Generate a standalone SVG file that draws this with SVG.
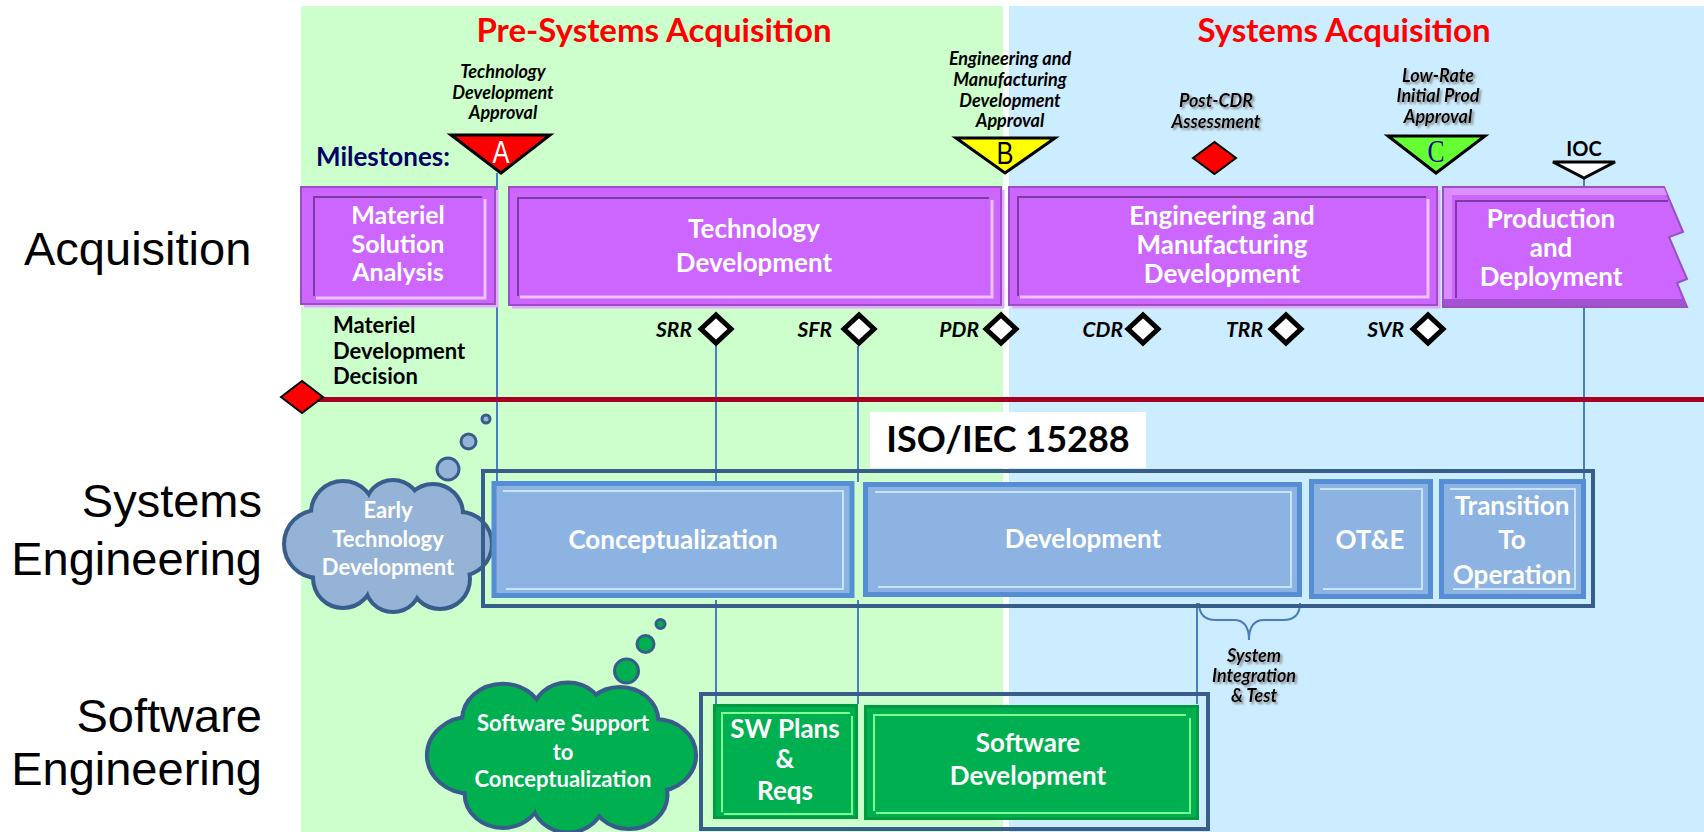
<svg xmlns="http://www.w3.org/2000/svg" xmlns:xlink="http://www.w3.org/1999/xlink" width="1704" height="832" viewBox="0 0 1704 832">
  <style>
    .lbl{font-family:"Liberation Sans",Arial,sans-serif;font-size:47px;fill:#000}
    .title{font-family:Lato,"Open Sans",sans-serif;font-weight:700;font-size:33px;fill:#ff0000;text-anchor:middle}
    .ms{font-family:Lato,"Open Sans",sans-serif;font-weight:700;font-style:italic;font-size:18px;fill:#000;text-anchor:middle}
    .rv{font-family:Lato,"Open Sans",sans-serif;font-weight:700;font-style:italic;font-size:21px;fill:#000;text-anchor:end}
    .wb{font-family:Lato,"Open Sans",sans-serif;font-weight:700;font-size:26px;fill:#fff;text-anchor:middle}
    .wbs{font-family:Lato,"Open Sans",sans-serif;font-weight:700;font-size:25px;fill:#fff;text-anchor:middle}
    .cl{font-family:Lato,"Open Sans",sans-serif;font-weight:700;font-size:22px;fill:#fff;text-anchor:middle}
    .bk{font-family:Lato,"Open Sans",sans-serif;font-weight:700;fill:#000}
    .letter{font-family:"Liberation Sans",Arial,sans-serif;font-size:31px;text-anchor:middle}
    .purple{fill:#cc66ff;stroke:#9b4fc4;stroke-width:2}
    .pdark{fill:none;stroke:#7d3aa3;stroke-width:2}
    .plight{fill:none;stroke:#ecc4ff;stroke-width:3}
    .pglow{fill:none;stroke:#e3aaff;stroke-width:3}
    .blue{fill:#8db3e2;stroke:#558ed5;stroke-width:5}
    .bhi{fill:none;stroke:#c6e4ff;stroke-width:2}
    .green{fill:#00b050;stroke:#009a40;stroke-width:3}
    .ghi{fill:none;stroke:#7dff8f;stroke-width:2}
    .frame{fill:none;stroke:#385d8a;stroke-width:4}
    .vline{fill:none;stroke:#4a7ebb;stroke-width:2}
    .review{fill:#fff;stroke:#000;stroke-width:5}
    .bubble{stroke:#385d8a;stroke-width:3}
  </style>
  <defs>
    <filter id="softShadow" x="-10%" y="-30%" width="130%" height="160%">
      <feDropShadow dx="2" dy="2" stdDeviation="1" flood-color="#808080" flood-opacity="0.9"/>
    </filter>
    <!-- cloud outline built from overlapping lobes, centred on the origin -->
    <g id="cloudShape">
      <circle cx="-70" cy="-2" r="32" vector-effect="non-scaling-stroke"/>
      <circle cx="-45" cy="-33" r="30" vector-effect="non-scaling-stroke"/>
      <circle cx="5" cy="-38" r="26" vector-effect="non-scaling-stroke"/>
      <circle cx="45" cy="-32" r="28" vector-effect="non-scaling-stroke"/>
      <circle cx="72" cy="-2" r="30" vector-effect="non-scaling-stroke"/>
      <circle cx="52" cy="33" r="28" vector-effect="non-scaling-stroke"/>
      <circle cx="5" cy="38" r="26" vector-effect="non-scaling-stroke"/>
      <circle cx="-45" cy="32" r="28" vector-effect="non-scaling-stroke"/>
      <ellipse cx="0" cy="0" rx="70" ry="42" vector-effect="non-scaling-stroke"/>
    </g>
  </defs>

  <!-- phase backgrounds -->
  <rect width="1704" height="832" fill="#fff"/>
  <rect x="301" y="6" width="702" height="826" fill="#ccffcc"/>
  <rect x="1009" y="6" width="695" height="826" fill="#ccecff"/>

  <!-- row labels -->
  <g id="row-labels">
    <text class="lbl" x="24" y="265">Acquisition</text>
    <text class="lbl" x="262" y="517" text-anchor="end">Systems</text>
    <text class="lbl" x="262" y="575" text-anchor="end">Engineering</text>
    <text class="lbl" x="262" y="732" text-anchor="end">Software</text>
    <text class="lbl" x="262" y="785" text-anchor="end">Engineering</text>
  </g>

  <g id="phase-titles">
    <text class="title" x="654" y="42">Pre-Systems Acquisition</text>
    <text class="title" x="1344" y="42">Systems Acquisition</text>
  </g>

  <!-- connectors: milestone drop lines, timeline and brace -->
  <g id="connectors">
    <path class="vline" d="M497,173 V482"/>
    <path class="vline" d="M716,346 V482 M716,600 V704"/>
    <path class="vline" d="M858,346 V482 M858,600 V704"/>
    <path class="vline" d="M1584,178 V480"/>
    <path class="vline" d="M1197,603 V704"/>
    <path class="vline" d="M1199,603 Q1199,620 1216,620 H1234 Q1249,620 1249,640 Q1249,620 1264,620 H1283 Q1300,620 1300,603"/>
    <rect x="302" y="397" width="1402" height="5" fill="#a50021"/>
  </g>

  <g id="milestones-label">
    <text class="bk" x="316" y="166" font-size="26" style="fill:#000066">Milestones:</text>
  </g>

  <g id="milestone-a">
    <text class="ms" x="503" y="78">Technology</text>
    <text class="ms" x="503" y="99">Development</text>
    <text class="ms" x="503" y="119">Approval</text>
    <polygon points="451,135 550,135 501,173" fill="#ff0000" stroke="#000" stroke-width="3"/>
    <text class="letter" x="501" y="163" fill="#fff" textLength="17" lengthAdjust="spacingAndGlyphs">A</text>
  </g>

  <g id="milestone-b">
    <text class="ms" x="1010" y="65">Engineering and</text>
    <text class="ms" x="1010" y="86">Manufacturing</text>
    <text class="ms" x="1010" y="107">Development</text>
    <text class="ms" x="1010" y="127">Approval</text>
    <polygon points="956,138 1055,138 1005,173" fill="#ffff00" stroke="#000" stroke-width="3"/>
    <text class="letter" x="1005" y="164" fill="#000" textLength="17" lengthAdjust="spacingAndGlyphs">B</text>
  </g>

  <g id="post-cdr">
    <g filter="url(#softShadow)">
      <text class="ms" x="1216" y="107">Post-CDR</text>
      <text class="ms" x="1216" y="128">Assessment</text>
    </g>
    <polygon points="1193,158 1214.5,142 1236,158 1214.5,174" fill="#ff0000" stroke="#000" stroke-width="2"/>
  </g>

  <g id="milestone-c">
    <g filter="url(#softShadow)">
      <text class="ms" x="1438" y="82">Low-Rate</text>
      <text class="ms" x="1438" y="102">Initial Prod</text>
      <text class="ms" x="1438" y="123">Approval</text>
    </g>
    <polygon points="1388,136 1485,136 1436,173" fill="#66ff33" stroke="#000" stroke-width="3"/>
    <text x="1436" y="162" font-family="'Liberation Serif','Times New Roman',serif" font-size="31" fill="#000099" text-anchor="middle" textLength="17" lengthAdjust="spacingAndGlyphs">C</text>
  </g>

  <g id="ioc">
    <text class="bk" x="1584" y="156" font-size="20" text-anchor="middle">IOC</text>
    <polygon points="1553,162 1615,162 1584,178" fill="#fff" stroke="#000" stroke-width="3"/>
  </g>

  <!-- acquisition phases -->
  <g id="materiel-solution-analysis">
    <path class="pglow" d="M497,190 V306 H304"/>
    <rect class="purple" x="301" y="187" width="194" height="117"/>
    <path class="pdark" d="M314,296 V197 H482"/>
    <path class="plight" d="M316,298 H485 V199"/>
    <text class="wbs" x="398" y="224">Materiel</text>
    <text class="wbs" x="398" y="252.5">Solution</text>
    <text class="wbs" x="398" y="281">Analysis</text>
  </g>

  <g id="technology-development">
    <path class="pglow" d="M1003,190 V307 H512"/>
    <rect class="purple" x="509" y="187" width="492" height="118"/>
    <path class="pdark" d="M518,296 V198 H989"/>
    <path class="plight" d="M520,297 H992 V200"/>
    <text class="wb" x="754" y="238">Technology</text>
    <text class="wb" x="754" y="272">Development</text>
  </g>

  <g id="emd">
    <path class="pglow" d="M1439,190 V307 H1012"/>
    <rect class="purple" x="1009" y="187" width="428" height="118"/>
    <path class="pdark" d="M1018,296 V197 H1426"/>
    <path class="plight" d="M1020,297 H1428 V199"/>
    <text class="wb" x="1222" y="225">Engineering and</text>
    <text class="wb" x="1222" y="254">Manufacturing</text>
    <text class="wb" x="1222" y="283">Development</text>
  </g>

  <g id="production-deployment">
    <polygon class="purple" points="1443,187 1664,187 1683,232 1669,237 1687,279 1677,283 1687,307 1443,307"/>
    <polygon points="1444,188 1664,188 1667,195 1452,195" fill="#dc90ff"/>
    <rect x="1444" y="188" width="8" height="112" fill="#d98aff"/>
    <polygon points="1444,299 1684,299 1686,306 1444,306" fill="#a552d2"/>
    <path class="pdark" d="M1456,298 V201 H1668"/>
    <text class="wb" x="1551" y="228">Production</text>
    <text class="wb" x="1551" y="257">and</text>
    <text class="wb" x="1551" y="286">Deployment</text>
  </g>

  <g id="materiel-development-decision">
    <text class="bk" x="333" y="333" font-size="22">Materiel</text>
    <text class="bk" x="333" y="359" font-size="22">Development</text>
    <text class="bk" x="333" y="384" font-size="22">Decision</text>
    <polygon points="281,397 302,381 323,397 302,413" fill="#ff0000" stroke="#000" stroke-width="2"/>
  </g>

  <!-- technical reviews -->
  <g id="reviews">
    <g id="srr"><text class="rv" x="692" y="337">SRR</text><polygon class="review" points="701,329 716,315 731,329 716,343"/></g>
    <g id="sfr"><text class="rv" x="832" y="337">SFR</text><polygon class="review" points="844,329 859,315 874,329 859,343"/></g>
    <g id="pdr"><text class="rv" x="979" y="337">PDR</text><polygon class="review" points="986,329 1001,315 1016,329 1001,343"/></g>
    <g id="cdr"><text class="rv" x="1123" y="337">CDR</text><polygon class="review" points="1128,329 1143,315 1158,329 1143,343"/></g>
    <g id="trr"><text class="rv" x="1263" y="337">TRR</text><polygon class="review" points="1271,329 1286,315 1301,329 1286,343"/></g>
    <g id="svr"><text class="rv" x="1404" y="337">SVR</text><polygon class="review" points="1413,329 1428,315 1443,329 1428,343"/></g>
  </g>

  <g id="iso-15288">
    <rect x="870" y="412" width="276" height="56" fill="#fff"/>
    <text class="bk" x="1008" y="452" font-size="36" text-anchor="middle">ISO/IEC 15288</text>
  </g>

  <!-- systems engineering row -->
  <g id="early-technology-development">
    <circle class="bubble" cx="486" cy="419" r="4" fill="#95b3d7"/>
    <circle class="bubble" cx="468.5" cy="441.5" r="7.5" fill="#95b3d7"/>
    <circle class="bubble" cx="448" cy="469" r="11" fill="#95b3d7"/>
    <use xlink:href="#cloudShape" transform="translate(388 546)" fill="#95b3d7" stroke="#385d8a" stroke-width="8"/>
    <use xlink:href="#cloudShape" transform="translate(388 546)" fill="#95b3d7"/>
    <text class="cl" x="388" y="518">Early</text>
    <text class="cl" x="388" y="547">Technology</text>
    <text class="cl" x="388" y="575">Development</text>
  </g>

  <g id="systems-engineering-frame">
    <rect class="frame" x="483" y="471" width="1110" height="135"/>
  </g>

  <g id="conceptualization">
    <rect class="blue" x="494" y="483.5" width="358" height="112"/>
    <path class="bhi" d="M503,491 H843 V589 H506"/>
    <text class="wb" x="673" y="549">Conceptualization</text>
  </g>

  <g id="development">
    <rect class="blue" x="865.5" y="484.5" width="434" height="110"/>
    <path class="bhi" d="M875,492 H1291 V587 H878"/>
    <text class="wb" x="1083" y="548">Development</text>
  </g>

  <g id="ot-and-e">
    <rect class="blue" x="1311.5" y="481.5" width="119" height="115"/>
    <path class="bhi" d="M1320,489 H1422 V589 H1323"/>
    <text class="wb" x="1370" y="549">OT&amp;E</text>
  </g>

  <g id="transition-to-operation">
    <rect class="blue" x="1441.5" y="481.5" width="142" height="115"/>
    <path class="bhi" d="M1450,489 H1575 V589 H1453"/>
    <text class="wb" x="1512" y="515">Transition</text>
    <text class="wb" x="1512" y="549">To</text>
    <text class="wb" x="1512" y="584">Operation</text>
  </g>

  <g id="system-integration-test" filter="url(#softShadow)">
    <text class="ms" x="1254" y="662">System</text>
    <text class="ms" x="1254" y="682">Integration</text>
    <text class="ms" x="1254" y="702">&amp; Test</text>
  </g>

  <!-- software engineering row -->
  <g id="software-support">
    <circle class="bubble" cx="660.5" cy="624" r="4.5" fill="#00b050"/>
    <circle class="bubble" cx="645.5" cy="644" r="8.5" fill="#00b050"/>
    <circle class="bubble" cx="626.5" cy="671" r="12" fill="#00b050"/>
    <use xlink:href="#cloudShape" transform="translate(561.5 757.5) scale(1.3 1.14)" fill="#00b050" stroke="#385d8a" stroke-width="8"/>
    <use xlink:href="#cloudShape" transform="translate(561.5 757.5) scale(1.3 1.14)" fill="#00b050"/>
    <text class="cl" x="563" y="731">Software Support</text>
    <text class="cl" x="563" y="760">to</text>
    <text class="cl" x="563" y="787">Conceptualization</text>
  </g>

  <g id="software-engineering-frame">
    <rect class="frame" x="701" y="694" width="507" height="135"/>
  </g>

  <g id="sw-plans-reqs">
    <rect class="green" x="714.5" y="705.5" width="142" height="112"/>
    <path class="ghi" d="M722,812 V713 H850"/>
    <path class="ghi" d="M724,814 H852 V716"/>
    <text class="wb" x="785" y="738">SW Plans</text>
    <text class="wb" x="785" y="768">&amp;</text>
    <text class="wb" x="785" y="800">Reqs</text>
  </g>

  <g id="software-development">
    <rect class="green" x="865.5" y="706.5" width="332" height="112"/>
    <path class="ghi" d="M874,811 V715 H1186"/>
    <path class="ghi" d="M876,813 H1190 V718"/>
    <text class="wb" x="1028" y="752">Software</text>
    <text class="wb" x="1028" y="785">Development</text>
  </g>
</svg>
